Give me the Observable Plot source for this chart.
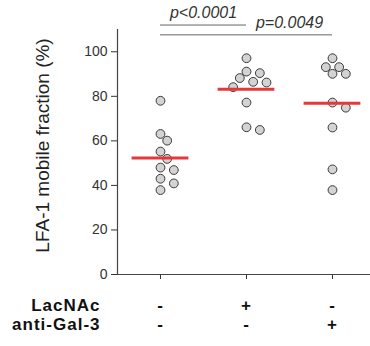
<!DOCTYPE html>
<html><head><meta charset="utf-8">
<script src="https://cdn.jsdelivr.net/npm/d3@7"></script>
<script src="https://cdn.jsdelivr.net/npm/@observablehq/plot@0.6"></script>
<style>
body{margin:0;background:#fff;}
g[font-weight="bold"] text{letter-spacing:1px;}
</style>
</head><body><div id="chart"></div>
<script>
// ---- data ----
const groups = [0, 1, 2];
const controlValues = [78.0, 63.1, 60.1, 55.2, 51.9, 48.0, 46.9, 43.0, 40.9, 37.9];
const lacnacValues  = [97.1, 91.1, 90.4, 88.2, 86.5, 86.2, 84.1, 77.2, 66.1, 64.9];
const antiGal3Values = [97.1, 93.1, 93.1, 90.1, 90.1, 77.2, 74.9, 66.0, 47.2, 37.9];
const groupMeans = [52.3, 83.2, 76.9];
const yTicks = [0, 20, 40, 60, 80, 100];
const lacnacSigns = ["-", "+", "-"];
const antiGal3Signs = ["-", "-", "+"];
const rowLabels = ["LacNAc", "anti-Gal-3"];
const yLabel = "LFA-1 mobile fraction (%)";
const pFrom = [0, 0];
const pTo = [1, 2];
const pLabels = ["p<0.0001", "p=0.0049"];

// ---- layout ----
const W = 370, H = 346, mL = 117, mR = 0, mT = 29, mB = 72;
const yDomain = [0, 110], xDomain = [-0.5, 2.442];
const bracketLevels = [112, 107.6];
const pxPerY = (H - mT - mB) / (yDomain[1] - yDomain[0]);
const pxPerX = (W - mL - mR) / (xDomain[1] - xDomain[0]);
const R = 4.4, D = 9.2, S = 6.67;

function swarm(vals, g) {
  const placed = [];
  return vals.map(v => {
    const py = v * pxPerY;
    for (let k = 0; ; k++) {
      const j = k === 0 ? 0 : (k % 2 ? (k + 1) / 2 : -k / 2);
      const ox = j * S;
      if (placed.every(p => (p.ox - ox) ** 2 + (p.py - py) ** 2 >= D * D)) {
        placed.push({ox, py});
        return {group: g, value: v, x: g + ox / pxPerX};
      }
    }
  });
}
const points = [controlValues, lacnacValues, antiGal3Values].flatMap((vals, g) => swarm(vals, g));
const comparisons = pFrom.map((f, i) => ({from: f, to: pTo[i], label: pLabels[i], level: bracketLevels[i]}));

const chart = Plot.plot({
  width: W, height: H, marginLeft: mL, marginRight: mR, marginTop: mT, marginBottom: mB,
  style: {fontFamily: "'Liberation Sans', Arial, sans-serif", fontSize: "14px", color: "#333", background: "#fff"},
  x: {type: "linear", domain: xDomain, ticks: groups, tickFormat: () => "", tickSize: 5, label: null},
  y: {domain: yDomain, ticks: yTicks, tickSize: 6, tickPadding: 4, label: null},
  marks: [
    Plot.ruleX([xDomain[0]], {y1: yDomain[0], y2: yDomain[1], stroke: "#444", strokeWidth: 1.2}),
    Plot.ruleY([0], {stroke: "#444", strokeWidth: 1.2}),
    Plot.dot(points, {x: "x", y: "value", r: R, fill: "#d3d3d3", stroke: "#3a3a3a", strokeWidth: 1}),
    Plot.ruleY(groupMeans, {y: d => d, x1: (d, i) => groups[i] - 0.33, x2: (d, i) => groups[i] + 0.33, stroke: "#e5383b", strokeWidth: 3}),
    Plot.ruleY(comparisons, {y: "level", x1: "from", x2: "to", stroke: "#666", strokeWidth: 1}),
    Plot.text(comparisons, {x: d => d.to - 0.5, y: "level", text: "label", dy: -12, fontStyle: "italic", fontSize: 16, fill: "#333"}),
    Plot.text([yLabel], {frameAnchor: "left", rotate: -90, textAnchor: "middle", dx: -75, dy: -6.5, fontSize: 19, fill: "#222"}),
    Plot.text(lacnacSigns, {x: (d, i) => groups[i], y: 0, dy: 31.5, fontSize: 17, fontWeight: "bold", fill: "#111"}),
    Plot.text(antiGal3Signs, {x: (d, i) => groups[i], y: 0, dy: 50, fontSize: 17, fontWeight: "bold", fill: "#111"}),
    Plot.text([rowLabels[0]], {x: xDomain[0], y: 0, dx: -17, dy: 31.5, textAnchor: "end", fontSize: 17, fontWeight: "bold", fill: "#111"}),
    Plot.text([rowLabels[1]], {x: xDomain[0], y: 0, dx: -17, dy: 50, textAnchor: "end", fontSize: 17, fontWeight: "bold", fill: "#111"})
  ]
});
document.getElementById("chart").appendChild(chart);
</script>
</body></html>
